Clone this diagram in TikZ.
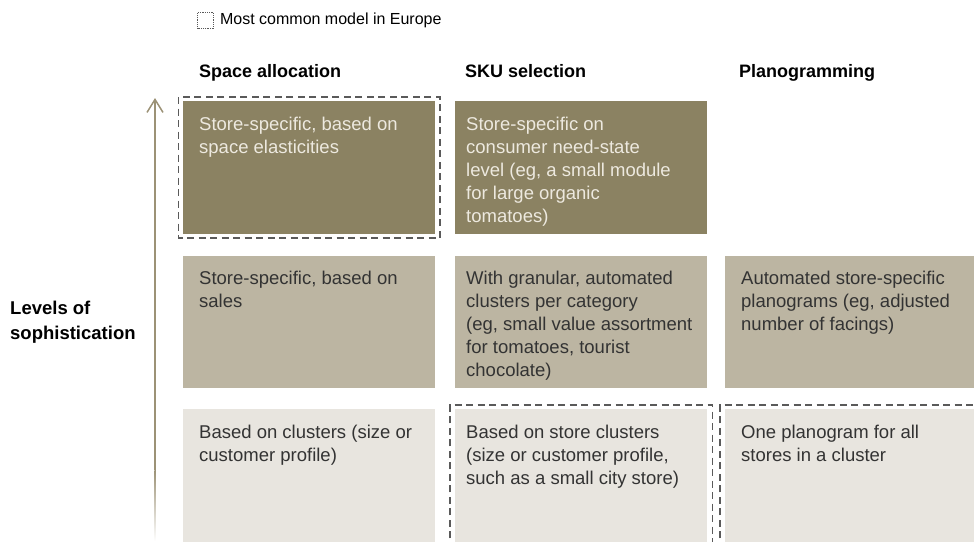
\documentclass[tikz,border=0pt]{standalone}
\usepackage{fontspec}
\setmainfont{Liberation Sans}
\usetikzlibrary{positioning,arrows.meta}
\definecolor{olive}{RGB}{139,130,98}
\definecolor{stone}{RGB}{188,181,162}
\definecolor{sand}{RGB}{232,229,223}
\definecolor{arrowc}{RGB}{156,146,118}
\definecolor{inkgray}{RGB}{51,51,51}
\definecolor{dashgray}{RGB}{90,90,90}
\definecolor{paletext}{RGB}{237,233,223}
\tikzset{
	cell/.style={anchor=north west, minimum width=252pt, minimum height=132.5pt, inner sep=0pt},
	celltxt/.style={anchor=north west, inner sep=0pt, align=left, text=inkgray, font=\fontsize{18.5}{23}\selectfont},
	head/.style={anchor=base west, inner sep=0pt, font=\fontsize{18}{22}\bfseries\selectfont},
	common/.style={draw=dashgray, line width=1.3pt, dash pattern=on 7pt off 4.5pt},
}

\begin{document}
\begin{tikzpicture}[x=1pt, y=-1pt]
				\useasboundingbox (0,0) rectangle (974,541);
				
				% legend
				\node[draw=dashgray, densely dotted, line width=0.8pt, minimum size=16pt, inner sep=0pt] (legend) at (205.5,20.5) {};
				\node[right=6pt of legend, inner sep=0pt, font=\fontsize{16}{19}\selectfont] (legendtxt) {Most common model in Europe};
				
				% column heads
				\node[head] (hspace) at (199,77) {Space allocation};
				\node[head] (hsku) at (465,77) {SKU selection};
				\node[head] (hplano) at (739,77) {Planogramming};
				
				% axis
				\node[anchor=north west, inner sep=0pt, align=left, font=\fontsize{18.5}{25}\bfseries\selectfont] (levels) at (10,300.5) {Levels of\\sophistication};
				\coordinate (axtop) at (155,98);
				\coordinate (axmid) at (155,470);
				\coordinate (axbot) at (155,541);
				\draw[arrowc, line width=1.5pt, -{Straight Barb[length=13pt, width=16pt, line width=1.5pt]}] (axmid) -- (axtop);
				\shade[top color=arrowc, bottom color=white] ([xshift=-0.75pt]axmid) rectangle ([xshift=0.75pt]axbot);
				
				% cells, top row
				\node[cell, fill=olive] (sa3) at (183,101) {};
				\node[cell, fill=olive] (sku3) at (455,101) {};
				\node[celltxt, text=paletext] (sa3txt) at ([shift={(16,15.5)}]sa3.north west) {Store-specific, based on\\space elasticities};
				\node[celltxt, text=paletext] (sku3txt) at ([shift={(11,15.5)}]sku3.north west) {Store-specific on\\consumer need-state\\level (eg, a small module\\for large organic\\tomatoes)};
				
				% cells, middle row
				\node[cell, fill=stone] (sa2) at (183,255.5) {};
				\node[cell, fill=stone] (sku2) at (455,255.5) {};
				\node[cell, fill=stone, minimum width=249pt] (pg2) at (725,255.5) {};
				\node[celltxt] (sa2txt) at ([shift={(16,15.5)}]sa2.north west) {Store-specific, based on\\sales};
				\node[celltxt] (sku2txt) at ([shift={(11,15.5)}]sku2.north west) {With granular, automated\\clusters per category\\(eg, small value assortment\\for tomatoes, tourist\\chocolate)};
				\node[celltxt] (pg2txt) at ([shift={(16,15.5)}]pg2.north west) {Automated store-specific\\planograms (eg, adjusted\\number of facings)};
				
				% cells, bottom row
				\node[cell, fill=sand] (sa1) at (183,409) {};
				\node[cell, fill=sand] (sku1) at (455,409) {};
				\node[cell, fill=sand, minimum width=249pt] (pg1) at (725,409) {};
				\node[celltxt] (sa1txt) at ([shift={(16,15.5)}]sa1.north west) {Based on clusters (size or\\customer profile)};
				\node[celltxt] (sku1txt) at ([shift={(11,15.5)}]sku1.north west) {Based on store clusters\\(size or customer profile,\\such as a small city store)};
				\node[celltxt] (pg1txt) at ([shift={(16,15.5)}]pg1.north west) {One planogram for all\\stores in a cluster};
				
				% most common model
				\draw[common] ([shift={(-4.5,-4)}]sa3.north west) rectangle ([shift={(4.5,4)}]sa3.south east);
				\draw[common] ([shift={(-5,8)}]sku1.south west) -- ([shift={(-5,-4)}]sku1.north west) -- ([shift={(5,-4)}]sku1.north east) -- ([shift={(5,8)}]sku1.south east);
				\draw[common] ([shift={(-5,8)}]pg1.south west) -- ([shift={(-5,-4)}]pg1.north west) -- ([shift={(10,-4)}]pg1.north east);
\end{tikzpicture}
\end{document}
